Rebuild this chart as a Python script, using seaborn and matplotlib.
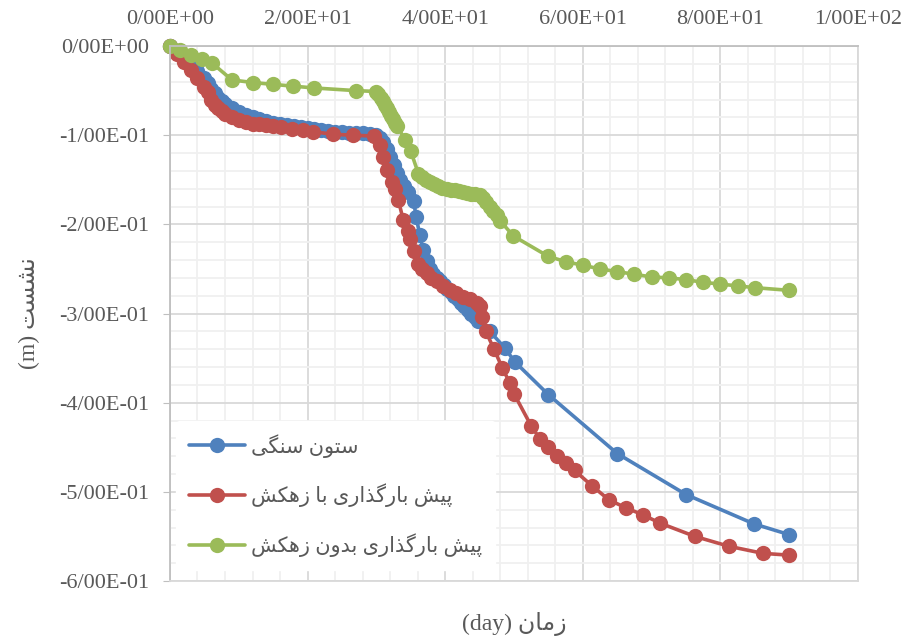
import numpy as np
import pandas as pd
import matplotlib
matplotlib.use("Agg")
import matplotlib.pyplot as plt
import seaborn as sns
from matplotlib.ticker import MultipleLocator, FuncFormatter

# =========================
# DATA
# =========================

stone_x = [0, 1, 2, 3, 4, 5, 5.5, 6, 6.5, 7, 7.5, 8, 9, 10, 11, 12, 13, 14, 15, 16,
           17, 18, 19, 20, 21, 22, 23, 24, 25, 26, 27, 28, 29, 30, 30.5, 31, 31.5,
           32, 32.5, 33, 33.5, 34, 34.6, 35.4, 35.8, 36.3, 36.8, 37.3, 37.8, 38.3,
           38.8, 39.3, 39.8, 40.3, 40.8, 41.3, 41.8, 42.3, 42.8, 43.3, 43.8, 44.3,
           44.8, 46.5, 48.7, 50.1, 55.0, 65.0, 75.0, 84.9, 90.0]
stone_y = [0, -0.007, -0.014, -0.021, -0.028, -0.036, -0.042, -0.048, -0.053, -0.058,
           -0.062, -0.065, -0.070, -0.074, -0.077, -0.080, -0.082, -0.084, -0.086,
           -0.087, -0.089, -0.090, -0.091, -0.092, -0.093, -0.094, -0.095, -0.096,
           -0.096, -0.097, -0.097, -0.098, -0.099, -0.100, -0.103, -0.108, -0.115,
           -0.124, -0.133, -0.142, -0.150, -0.157, -0.164, -0.174, -0.192, -0.212,
           -0.229, -0.241, -0.250, -0.256, -0.260, -0.264, -0.268, -0.272, -0.276,
           -0.280, -0.284, -0.288, -0.292, -0.296, -0.300, -0.304, -0.308, -0.320,
           -0.339, -0.354, -0.391, -0.457, -0.503, -0.536, -0.548]

drain_x = [0, 1, 2, 3, 4, 5, 5.5, 6, 6.5, 7, 7.5, 8, 9, 10, 11, 12, 13, 14, 15, 16.2,
           17.7, 19.4, 20.8, 23.7, 26.6, 29.6, 30.5, 31.0, 31.5, 32.2, 32.7, 33.2,
           33.9, 34.6, 34.9, 35.4, 36.1, 36.7, 37.3, 38.0, 38.8, 39.7, 40.7, 41.6,
           42.6, 43.6, 44.6, 45.1, 45.3, 45.9, 47.1, 48.3, 49.4, 50.0, 52.5, 53.8,
           55.0, 56.3, 57.6, 58.8, 61.3, 63.8, 66.3, 68.8, 71.2, 76.3, 81.2, 86.2,
           90.0]
drain_y = [0, -0.009, -0.018, -0.027, -0.036, -0.046, -0.052, -0.060, -0.066, -0.070,
           -0.073, -0.076, -0.080, -0.083, -0.085, -0.087, -0.088, -0.089, -0.090,
           -0.091, -0.093, -0.094, -0.096, -0.099, -0.100, -0.101, -0.111, -0.124,
           -0.139, -0.152, -0.160, -0.173, -0.195, -0.208, -0.216, -0.230, -0.244,
           -0.250, -0.255, -0.260, -0.264, -0.269, -0.274, -0.277, -0.281, -0.284,
           -0.288, -0.292, -0.304, -0.320, -0.340, -0.361, -0.378, -0.390, -0.426,
           -0.441, -0.450, -0.460, -0.468, -0.476, -0.493, -0.509, -0.518, -0.526,
           -0.535, -0.550, -0.561, -0.569, -0.571]

nodrain_x = [0, 1.5, 3.1, 4.6, 6.1, 9.0, 12.1, 15.0, 17.9, 20.9, 27.0, 30.0, 30.3,
             30.6, 30.9, 31.2, 31.5, 31.8, 32.1, 32.4, 32.7, 33.0, 34.2, 35.0, 36.1,
             36.6, 37.2, 37.8, 38.4, 39.0, 39.6, 40.2, 40.8, 41.4, 42.0, 42.6, 43.2,
             43.8, 44.4, 45.0, 45.5, 46.0, 46.5, 47.0, 47.5, 48.0, 49.9, 55.0, 57.6,
             60.1, 62.5, 65.0, 67.5, 70.0, 72.5, 75.0, 77.5, 80.0, 82.5, 85.0, 90.0]
nodrain_y = [0, -0.004, -0.010, -0.015, -0.019, -0.038, -0.041, -0.043, -0.045, -0.047,
             -0.050, -0.051, -0.054, -0.058, -0.062, -0.066, -0.070, -0.074, -0.078,
             -0.082, -0.086, -0.090, -0.105, -0.118, -0.143, -0.147, -0.150, -0.153,
             -0.155, -0.157, -0.159, -0.160, -0.161, -0.162, -0.163, -0.164, -0.165,
             -0.166, -0.166, -0.167, -0.170, -0.175, -0.180, -0.185, -0.190, -0.196,
             -0.213, -0.236, -0.242, -0.246, -0.250, -0.253, -0.256, -0.259, -0.260,
             -0.262, -0.265, -0.267, -0.269, -0.271, -0.274]

series_names = ["ستون سنگی", "پیش بارگذاری با زهکش", "پیش بارگذاری بدون زهکش"]
series_colors = ["#4F81BD", "#C0504D", "#9BBB59"]
x_label_fa = "زمان"
y_label_fa = "نشست"

# =========================
# SIMPLE PERSIAN SHAPING
# (matplotlib has no shaping / bidi)
# =========================

FORMS = {
    "ا": ("\uFE8D", "\uFE8E"),
    "ب": ("\uFE8F", "\uFE90", "\uFE91", "\uFE92"),
    "پ": ("\uFB56", "\uFB57", "\uFB58", "\uFB59"),
    "ت": ("\uFE95", "\uFE96", "\uFE97", "\uFE98"),
    "د": ("\uFEA9", "\uFEAA"),
    "ذ": ("\uFEAB", "\uFEAC"),
    "ر": ("\uFEAD", "\uFEAE"),
    "ز": ("\uFEAF", "\uFEB0"),
    "س": ("\uFEB1", "\uFEB2", "\uFEB3", "\uFEB4"),
    "ش": ("\uFEB5", "\uFEB6", "\uFEB7", "\uFEB8"),
    "ک": ("\uFB8E", "\uFB8F", "\uFB90", "\uFB91"),
    "گ": ("\uFB92", "\uFB93", "\uFB94", "\uFB95"),
    "م": ("\uFEE1", "\uFEE2", "\uFEE3", "\uFEE4"),
    "ن": ("\uFEE5", "\uFEE6", "\uFEE7", "\uFEE8"),
    "ه": ("\uFEE9", "\uFEEA", "\uFEEB", "\uFEEC"),
    "و": ("\uFEED", "\uFEEE"),
    "ی": ("\uFBFC", "\uFBFD", "\uFBFE", "\uFBFF"),
}


def fa(text):
    out = []
    n = len(text)
    for i, c in enumerate(text):
        if c not in FORMS:
            out.append(c)
            continue
        prev = text[i - 1] if i > 0 else None
        nxt = text[i + 1] if i < n - 1 else None
        join_prev = prev in FORMS and len(FORMS[prev]) == 4
        join_next = nxt in FORMS and len(FORMS[c]) == 4
        f = FORMS[c]
        if join_prev and join_next:
            out.append(f[3])
        elif join_prev:
            out.append(f[1])
        elif join_next:
            out.append(f[2])
        else:
            out.append(f[0])
    return "".join(out)[::-1]


# =========================
# BUILD TABLES
# =========================

frames = []
for name, xs, ys in zip(series_names, [stone_x, drain_x, nodrain_x],
                        [stone_y, drain_y, nodrain_y]):
    frames.append(pd.DataFrame({"day": xs, "settle": ys, "name": name}))

# =========================
# PLOT
# =========================

sns.set_style("white")
plt.rcParams["font.family"] = ["Liberation Serif", "DejaVu Sans"]

fig = plt.figure(figsize=(9.07, 6.42), dpi=100)
ax = fig.add_axes([0.1874, 0.095, 0.7586, 0.8333])

for df, name, col in zip(frames, series_names, series_colors):
    sns.lineplot(data=df, x="day", y="settle", ax=ax, color=col, marker="o",
                 markersize=11, markeredgewidth=0, linewidth=2.6,
                 estimator=None, sort=False, label=fa(name), clip_on=False)

ax.set_xlim(0, 100)
ax.set_ylim(-0.6, 0)
ax.xaxis.set_major_locator(MultipleLocator(20))
ax.xaxis.set_minor_locator(MultipleLocator(4))
ax.yaxis.set_major_locator(MultipleLocator(0.1))
ax.yaxis.set_minor_locator(MultipleLocator(0.02))

fmt = FuncFormatter(lambda v, p: ("%.2E" % (0 if abs(v) < 1e-12 else v)).replace(".", "/"))
ax.xaxis.set_major_formatter(fmt)
ax.yaxis.set_major_formatter(fmt)

ax.grid(which="major", color="#D9D9D9", linewidth=1.3)
ax.grid(which="minor", color="#F0F0F0", linewidth=1.3)
ax.set_axisbelow(True)

ax.xaxis.tick_top()
ax.xaxis.set_label_position("bottom")
ax.tick_params(axis="x", which="both", length=0, pad=12, labelsize=16, labelcolor="#595959")
ax.tick_params(axis="y", which="major", length=5, color="#BFBFBF", pad=10,
               labelsize=16, labelcolor="#595959", left=True)
ax.tick_params(axis="y", which="minor", length=0)

for side in ["left", "top"]:
    ax.spines[side].set_color("#BFBFBF")
    ax.spines[side].set_linewidth(1.3)
for side in ["right", "bottom"]:
    ax.spines[side].set_color("#D9D9D9")
    ax.spines[side].set_linewidth(1.3)

ax.set_xlabel("(day) " + fa(x_label_fa), fontsize=17, color="#595959", labelpad=22)
ax.set_ylabel("(m) " + fa(y_label_fa), fontsize=17, color="#595959", labelpad=14)

leg = ax.legend(loc="upper left", bbox_to_anchor=(0.0, 0.31), frameon=True,
                fontsize=15, labelspacing=1.25, handlelength=2.7,
                handletextpad=0.3, borderpad=0.6, borderaxespad=0.3)
leg.get_frame().set_facecolor("white")
leg.get_frame().set_edgecolor("white")
leg.get_frame().set_alpha(1)
for t in leg.get_texts():
    t.set_color("#595959")

fig.savefig("out.png", dpi=100)
